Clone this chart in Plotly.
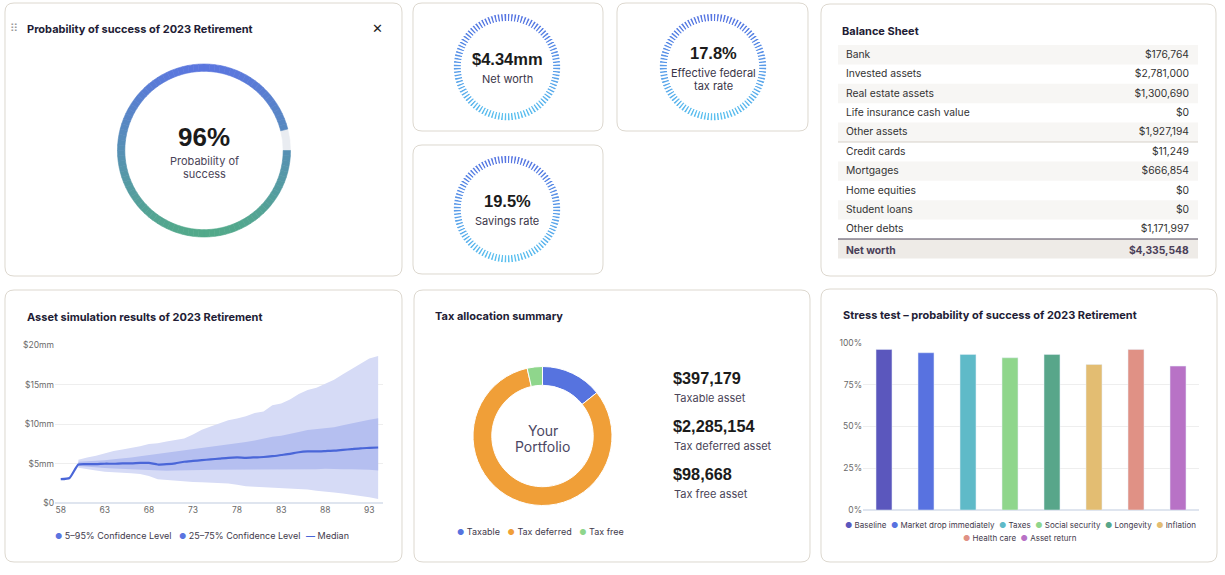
import math
import plotly.graph_objects as go

W, H = 1225, 575

# ---------------- data ----------------
success_prob = 96

kpi_values = ["$4.34mm", "17.8%", "19.5%"]
kpi_labels = ["Net worth", "Effective federal<br>tax rate", "Savings rate"]

bs_items = ["Bank", "Invested assets", "Real estate assets", "Life insurance cash value",
            "Other assets", "Credit cards", "Mortgages", "Home equities", "Student loans",
            "Other debts", "Net worth"]
bs_values = [176764, 2781000, 1300690, 0, 1927194, 11249, 666854, 0, 0, 1171997, 4335548]

ages = list(range(58, 95))
median = [3.05, 3.2, 4.9, 4.95, 4.95, 5.0, 5.0, 5.05, 5.05, 5.1, 5.1, 4.9, 4.95, 5.05,
          5.25, 5.35, 5.45, 5.55, 5.65, 5.75, 5.8, 5.75, 5.8, 5.85, 5.95, 6.1, 6.25, 6.45,
          6.55, 6.55, 6.6, 6.65, 6.75, 6.85, 6.95, 7.0, 7.05]
band_ages = list(range(60, 95))
p95 = [5.5, 5.8, 6.0, 6.3, 6.6, 6.8, 7.0, 7.2, 7.5, 7.6, 7.8, 8.0, 8.2, 8.7, 9.3, 9.7, 10.1,
       10.5, 10.7, 11.0, 11.4, 11.6, 12.4, 12.6, 13.1, 13.8, 14.3, 14.6, 15.1, 15.6, 16.3,
       17.0, 17.7, 18.3, 18.6]
p75 = [5.25, 5.3, 5.4, 5.45, 5.55, 5.65, 5.8, 5.95, 6.1, 6.25, 6.4, 6.55, 6.7, 6.85, 7.0,
       7.1, 7.25, 7.45, 7.6, 7.75, 7.95, 8.2, 8.4, 8.55, 8.75, 9.0, 9.25, 9.35, 9.45, 9.6,
       9.85, 10.1, 10.35, 10.55, 10.75]
p25 = [4.7, 4.6, 4.5, 4.45, 4.4, 4.35, 4.3, 4.25, 4.2, 4.1, 4.1, 4.15, 4.15, 4.2, 4.2, 4.25,
       4.25, 4.3, 4.3, 4.25, 4.3, 4.3, 4.3, 4.3, 4.3, 4.3, 4.3, 4.3, 4.35, 4.3, 4.3, 4.3,
       4.3, 4.25, 4.15]
p05 = [4.5, 4.3, 4.15, 4.0, 3.95, 3.85, 3.8, 3.7, 3.45, 3.05, 2.95, 2.9, 2.8, 2.7, 2.65,
       2.6, 2.55, 2.5, 2.35, 2.15, 2.1, 2.05, 1.95, 1.9, 1.85, 1.8, 1.75, 1.6, 1.45, 1.35,
       1.25, 1.1, 0.95, 0.75, 0.55]
age_ticks = [58, 63, 68, 73, 78, 83, 88, 93]
asset_ticks = [0, 5, 10, 15, 20]
asset_ticktext = ["$0", "$5mm", "$10mm", "$15mm", "$20mm"]

tax_labels = ["Taxable", "Tax deferred", "Tax free"]
tax_values = [397179, 2285154, 98668]
tax_captions = ["Taxable asset", "Tax deferred asset", "Tax free asset"]
tax_colors = ["#5673df", "#f09f38", "#8fd68c"]

stress_labels = ["Baseline", "Market drop immediately", "Taxes", "Social security",
                 "Longevity", "Inflation", "Health care", "Asset return"]
stress_values = [96, 94, 93, 91, 93, 87, 96, 86]
stress_colors = ["#5b57bd", "#5872e0", "#5fbac8", "#8fd68c", "#58a68a", "#e3bd72",
                 "#e09185", "#b872c6"]
stress_ticks = [0, 25, 50, 75, 100]
stress_ticktext = ["0%", "25%", "50%", "75%", "100%"]

# ---------------- helpers ----------------
FONT = "Inter"
NUMFONT = "Liberation Sans"


def fx(x):
    return x / W


def fy(y):
    return 1 - y / H


def rrect(x0, y0, x1, y1, r=9):
    p = lambda x, y: f"{fx(x):.5f},{fy(y):.5f}"
    return (f"M {p(x0 + r, y0)} L {p(x1 - r, y0)} Q {p(x1, y0)} {p(x1, y0 + r)} "
            f"L {p(x1, y1 - r)} Q {p(x1, y1)} {p(x1 - r, y1)} L {p(x0 + r, y1)} "
            f"Q {p(x0, y1)} {p(x0, y1 - r)} L {p(x0, y0 + r)} Q {p(x0, y0)} {p(x0 + r, y0)} Z")


def hex2rgb(h):
    h = h.lstrip("#")
    return [int(h[i:i + 2], 16) for i in (0, 2, 4)]


def lerp(c0, c1, t):
    a, b = hex2rgb(c0), hex2rgb(c1)
    return "rgb({},{},{})".format(*[round(a[i] + (b[i] - a[i]) * t) for i in range(3)])


def dom(cx, cy, r):
    return dict(x=[fx(cx - r), fx(cx + r)], y=[fy(cy + r), fy(cy - r)])


fig = go.Figure()
shapes = []
ann = []


def text(x, y, s, size=11, color="#444", bold=False, xanchor="center", family=FONT):
    ann.append(dict(x=fx(x), y=fy(y), xref="paper", yref="paper", showarrow=False,
                    text=f"<b>{s}</b>" if bold else s, xanchor=xanchor, yanchor="middle",
                    font=dict(size=size, color=color, family=family)))


# ---------------- cards ----------------
cards = [(5, 3, 402, 276), (413, 3, 603, 131), (617, 3, 808, 131), (413, 145, 603, 274),
         (821, 4, 1216, 276), (5, 290, 402, 562), (414, 290, 810, 562), (821, 289, 1217, 562)]
for c in cards:
    shapes.append(dict(type="path", path=rrect(*c), xref="paper", yref="paper",
                       fillcolor="white", line=dict(color="#ddd8cf", width=1), layer="below"))

# ---------------- probability of success ring ----------------
n_seg = success_prob
ring_vals = [100 - success_prob] + [1] * n_seg
ring_cols = ["#e9ecf1"]
for i in range(n_seg):
    ang = -(i + 0.5) * 360 / 100
    t = (1 - math.sin(math.radians(ang))) / 2
    ring_cols.append(lerp("#5a76de", "#52a98a", t))
fig.add_trace(go.Pie(values=ring_vals, sort=False, direction="clockwise",
                     rotation=90 - (100 - success_prob) * 3.6, hole=0.915,
                     marker=dict(colors=ring_cols, line=dict(color=ring_cols, width=0.6)),
                     textinfo="none", hoverinfo="skip", showlegend=False,
                     domain=dom(204, 150.5, 86.5)))
text(25, 29, "Probability of success of 2023 Retirement", 11, "#221c35", True, "left")
text(14, 29, "⠿", 11, "#9a9a9a", False, "center", "DejaVu Sans")
text(377, 29, "✕", 13, "#222", True, "center", "DejaVu Sans")
text(204, 137, f"{success_prob}%", 26, "#1b1b1b", True, "center", NUMFONT)
text(204, 161, "Probability of", 11, "#4a4458")
text(204, 174, "success", 11, "#4a4458")

# ---------------- dashed KPI gauges ----------------
n_dash = 96
for (cx, cy), val, lab in zip([(507, 67), (713, 67), (507, 209)], kpi_values, kpi_labels):
    cols = []
    for i in range(n_dash):
        ang = 90 - (i + 0.5) * 360 / n_dash
        t = (1 - math.sin(math.radians(ang))) / 2
        cols.append(lerp("#5776e2", "#5cc0ef", t))
    fig.add_trace(go.Pie(values=[1] * n_dash, sort=False, direction="clockwise", hole=0.84,
                         marker=dict(colors=cols, line=dict(color="white", width=1.7)),
                         textinfo="none", hoverinfo="skip", showlegend=False,
                         domain=dom(cx, cy, 54)))
    lines = lab.split("<br>")
    if len(lines) == 1:
        text(cx, cy - 8, val, 16.5, "#1b1b1b", True, "center", NUMFONT)
        text(cx, cy + 12, lines[0], 11, "#3a3548")
    else:
        text(cx, cy - 14, val, 16.5, "#1b1b1b", True, "center", NUMFONT)
        text(cx, cy + 6, lines[0], 11, "#3a3548")
        text(cx, cy + 19, lines[1], 11, "#3a3548")

# ---------------- balance sheet table ----------------
text(840, 31, "Balance Sheet", 11, "#221c35", True, "left")
row_h = 19.4
top = 45
fills = ["#f7f6f4" if i % 2 == 0 else "white" for i in range(5)] + \
        ["white" if i % 2 == 0 else "#f7f6f4" for i in range(5)] + ["#eeebe7"]
for i, fc in enumerate(fills):
    if fc != "white":
        shapes.append(dict(type="rect", xref="paper", yref="paper", x0=fx(838), x1=fx(1198),
                           y0=fy(top + (i + 1) * row_h), y1=fy(top + i * row_h),
                           fillcolor=fc, line=dict(width=0), layer="below"))
col1 = [f"<b>{s}</b>" if s == "Net worth" else s for s in bs_items]
col2 = [f"<b>${v:,}</b>" if s == "Net worth" else f"${v:,}" for s, v in zip(bs_items, bs_values)]
clear = "rgba(0,0,0,0)"
t_top = top - 3 - 1
fig.add_trace(go.Table(
    domain=dict(x=[fx(838), fx(1198)],
                y=[fy(t_top + 1 + row_h * len(bs_items) + 2), fy(t_top)]),
    columnwidth=[250, 110],
    header=dict(values=["", ""], height=1, fill=dict(color=clear),
                line=dict(color=clear, width=0), font=dict(size=1)),
    cells=dict(values=[col1, col2], height=row_h, align=["left", "right"],
               fill=dict(color=clear), line=dict(color=clear, width=0),
               font=dict(family=FONT, size=10.3, color=[["#333"] * 10 + ["#4a4058"]] * 2))))
shapes.append(dict(type="line", xref="paper", yref="paper", x0=fx(838), x1=fx(1198),
                   y0=fy(top + 5 * row_h), y1=fy(top + 5 * row_h),
                   line=dict(color="#d6d1c9", width=1)))
shapes.append(dict(type="line", xref="paper", yref="paper", x0=fx(838), x1=fx(1198),
                   y0=fy(top + 10 * row_h), y1=fy(top + 10 * row_h),
                   line=dict(color="#4d4459", width=1.2)))

# ---------------- asset simulation ----------------
text(25, 317, "Asset simulation results of 2023 Retirement", 11, "#221c35", True, "left")
fig.add_trace(go.Scatter(x=band_ages, y=p05, mode="lines", line=dict(width=0),
                         hoverinfo="skip", showlegend=False, xaxis="x", yaxis="y"))
fig.add_trace(go.Scatter(x=band_ages, y=p95, mode="lines", line=dict(width=0), fill="tonexty",
                         fillcolor="#d6dbf6", name="5–95% Confidence Level",
                         showlegend=False, xaxis="x", yaxis="y"))
fig.add_trace(go.Scatter(x=band_ages, y=p25, mode="lines", line=dict(width=0),
                         hoverinfo="skip", showlegend=False, xaxis="x", yaxis="y"))
fig.add_trace(go.Scatter(x=band_ages, y=p75, mode="lines", line=dict(width=0), fill="tonexty",
                         fillcolor="#b5bff0", name="25–75% Confidence Level",
                         showlegend=False, xaxis="x", yaxis="y"))
fig.add_trace(go.Scatter(x=ages, y=median, mode="lines", name="Median",
                         line=dict(color="#4a66d8", width=2.2, shape="spline", smoothing=0.5),
                         showlegend=False, xaxis="x", yaxis="y"))

dot = lambda c: f'<span style="color:{c};font-size:8px">●</span>'
text(53, 535, dot("#5b74e0") + " 5–95% Confidence Level", 9, "#3f3a4c", False, "left")
text(177, 535, dot("#5b74e0") + " 25–75% Confidence Level", 9, "#3f3a4c", False, "left")
text(304, 535, '<span style="color:#4a66d8"><b>—</b></span> Median', 9, "#3f3a4c", False, "left")

# ---------------- tax allocation ----------------
text(433, 316, "Tax allocation summary", 11, "#221c35", True, "left")
fig.add_trace(go.Pie(values=tax_values, labels=tax_labels, sort=False, direction="clockwise",
                     rotation=0, hole=0.73,
                     marker=dict(colors=tax_colors, line=dict(color="white", width=1)),
                     textinfo="none", showlegend=False, domain=dom(542.5, 436, 69.5)))
text(542.5, 430, "Your", 14, "#4b4763")
text(542.5, 446, "Portfolio", 14, "#4b4763")
for i, (v, cap) in enumerate(zip(tax_values, tax_captions)):
    y0 = 378 + i * 48
    text(671, y0, f"${v:,}", 16.3, "#1b1b1b", True, "left", NUMFONT)
    text(672, y0 + 19.5, cap, 11, "#4a4458", False, "left")
tax_leg = "   ".join(dot(c) + " " + l for c, l in zip(tax_colors, tax_labels))
text(540, 531, tax_leg, 9, "#3f3a4c")

# ---------------- stress test ----------------
text(841, 315, "Stress test – probability of success of 2023 Retirement", 11, "#221c35", True, "left")
fig.add_trace(go.Bar(x=stress_labels, y=stress_values, marker=dict(color=stress_colors),
                     width=0.38, showlegend=False, xaxis="x2", yaxis="y2"))
row1 = "  ".join(dot(c) + " " + l for c, l in zip(stress_colors[:6], stress_labels[:6]))
row2 = "  ".join(dot(c) + " " + l for c, l in zip(stress_colors[6:], stress_labels[6:]))
text(1020, 525, row1, 8, "#3f3a4c")
text(1020, 537.5, row2, 8, "#3f3a4c")

tickfont = dict(family=FONT, size=8.5, color="#6a6a6a")
fig.update_layout(
    width=W, height=H, margin=dict(l=0, r=0, t=0, b=0, pad=0, autoexpand=False),
    paper_bgcolor="white", plot_bgcolor="rgba(0,0,0,0)", showlegend=False,
    shapes=shapes, annotations=ann, font=dict(family=FONT),
    xaxis=dict(domain=[fx(55), fx(383)], range=[57.35, 94.55], tickvals=age_ticks,
               showgrid=False, zeroline=False, showline=False, tickfont=tickfont, ticks="",
               automargin=False),
    yaxis=dict(domain=[fy(503.3), fy(345)], range=[0, 20], tickvals=asset_ticks,
               ticktext=asset_ticktext, gridcolor="#eeeeee", zeroline=True,
               zerolinecolor="#dfe5ef", zerolinewidth=2, tickfont=tickfont, ticks="",
               automargin=False),
    xaxis2=dict(domain=[fx(863), fx(1199)], range=[-0.5, 7.5], showticklabels=False,
                showgrid=False, zeroline=False, anchor="y2", automargin=False),
    yaxis2=dict(domain=[fy(510), fy(342.7)], range=[0, 100], tickvals=stress_ticks,
                ticktext=stress_ticktext, gridcolor="#eeeeee", zeroline=True,
                zerolinecolor="#dfe5ef", zerolinewidth=2, tickfont=tickfont, anchor="x2",
                ticks="", automargin=False),
)

fig.write_html("out.html", config={"displayModeBar": False},
               post_script="document.body.style.margin='0';document.body.style.overflow='hidden';")
